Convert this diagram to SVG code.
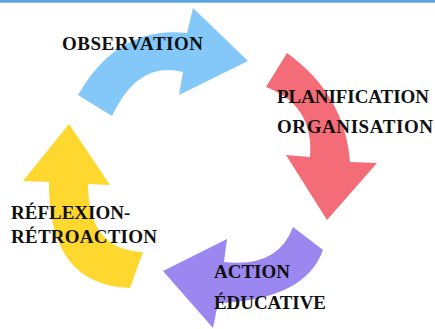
<svg xmlns="http://www.w3.org/2000/svg" width="435" height="329" viewBox="0 0 435 329">
<style>
.lbl{font-family:"Liberation Serif","DejaVu Serif",serif;font-weight:bold;font-size:19px;fill:#111111}
</style>
<rect x="0" y="0" width="435" height="329" fill="#ffffff"/>
<rect x="0" y="0" width="435" height="2.7" fill="#5ba3df"/>
<g id="connectors"></g>
<g id="observation">
<path d="M78,95 Q118,25 187,33 L193,8 L248,61 L179,95 L183,72 Q138,60 112,116 Z" fill="#84c8fa"/>
<text class="lbl" x="62" y="50" textLength="141" lengthAdjust="spacing">OBSERVATION</text>
</g>
<g id="planification">
<path d="M287,53 Q345,95 350,162 L377,163 L327,220 L286,155 L310,157 Q314,105 266,87 Z" fill="#f36c77"/>
<text class="lbl" x="277" y="103" textLength="152" lengthAdjust="spacing">PLANIFICATION</text>
<text class="lbl" x="277" y="133" textLength="156" lengthAdjust="spacing">ORGANISATION</text>
</g>
<g id="action">
<path d="M293,227 Q278,268 224,262 L227,239 L163,271 L213,328 L218,303 Q305,300 323,250 Z" fill="#9a87f0"/>
<text class="lbl" x="214" y="278">ACTION</text>
<text class="lbl" x="214" y="309" textLength="112" lengthAdjust="spacing">ÉDUCATIVE</text>
</g>
<g id="reflexion">
<path d="M130,288 Q48,285 49,182 L23,181 L69,124 L110,185 L88,184 Q88,250 143,252 Z" fill="#fed72f"/>
<text class="lbl" x="11" y="219">RÉFLEXION-</text>
<text class="lbl" x="11" y="243" textLength="146" lengthAdjust="spacing">RÉTROACTION</text>
</g>
</svg>
